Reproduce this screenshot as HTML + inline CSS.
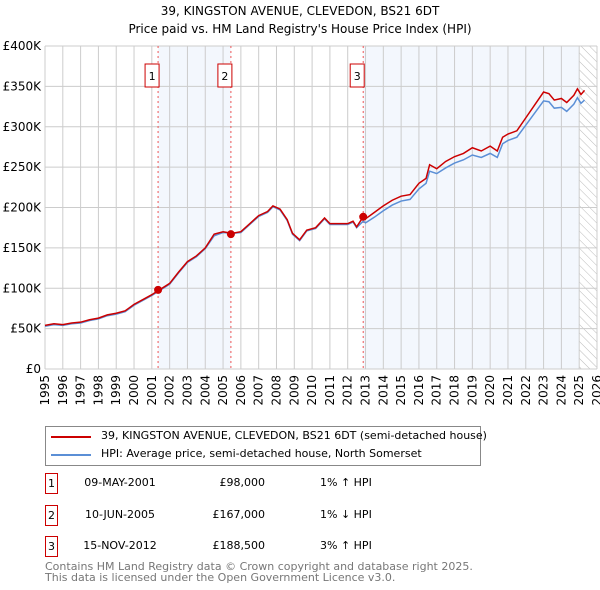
<!DOCTYPE html>
<html><head><meta charset="utf-8"><style>
body{margin:0;background:#fff;font-family:"DejaVu Sans","Liberation Sans",sans-serif;}
#wrap{position:relative;width:600px;height:590px;overflow:hidden;}
.t{position:absolute;font-size:12px;color:#000;white-space:nowrap;}
</style></head><body><div id="wrap">
<svg id="c" width="600" height="590" style="position:absolute;left:0;top:0" font-family="DejaVu Sans, Liberation Sans, sans-serif">
<defs><pattern id="hatch" width="6" height="6" patternUnits="userSpaceOnUse" patternTransform="rotate(-45)"><line x1="0" y1="0" x2="0" y2="6" stroke="#bbb" stroke-width="1"/></pattern></defs>
<text x="300" y="15" text-anchor="middle" font-size="12">39, KINGSTON AVENUE, CLEVEDON, BS21 6DT</text>
<text x="300" y="33" text-anchor="middle" font-size="12">Price paid vs. HM Land Registry's House Price Index (HPI)</text>
<g id="plot"></g>
</svg>
<div style="position:absolute;left:45px;top:426px;width:434px;height:38px;border:1px solid #888;">
<div style="position:absolute;left:5px;top:9px;width:40px;height:2px;background:#cc0000"></div>
<div class="t" style="left:55px;top:2px;font-size:11px">39, KINGSTON AVENUE, CLEVEDON, BS21 6DT (semi-detached house)</div>
<div style="position:absolute;left:5px;top:27px;width:40px;height:2px;background:#5b8fd6"></div>
<div class="t" style="left:55px;top:20px;font-size:11px">HPI: Average price, semi-detached house, North Somerset</div>
</div>
<div id="rows"></div>
<div class="t" style="left:45px;top:561px;font-size:11px;color:#777;line-height:11px">Contains HM Land Registry data © Crown copyright and database right 2025.<br>This data is licensed under the Open Government Licence v3.0.</div>
</div>
<script>
const hpiYears=[1995,1995.5,1996,1996.5,1997,1997.5,1998,1998.5,1999,1999.5,2000,2000.5,2001,2001.35,2001.5,2002,2002.5,2003,2003.5,2004,2004.5,2005,2005.5,2006,2006.5,2007,2007.5,2007.8,2008.2,2008.6,2008.9,2009.3,2009.7,2010.2,2010.7,2011,2011.5,2012,2012.3,2012.5,2012.87,2013,2013.5,2014,2014.5,2015,2015.5,2016,2016.4,2016.6,2017,2017.5,2018,2018.5,2019,2019.5,2020,2020.4,2020.7,2021,2021.5,2022,2022.5,2023,2023.3,2023.6,2024,2024.3,2024.7,2024.9,2025.1,2025.3];
const hpiValues=[53,55,54,56,57,60,62,66,68,71,79,85,91,96,98,105,119,132,139,149,165,169,168,169,179,189,194,201,197,184,167,159,171,174,186,179,179,179,182,175,183,181,188,196,203,208,210,223,230,245,242,249,255,259,265,262,267,262,279,283,287,302,317,332,331,323,324,319,328,336,329,333];
const redValues=[54,56,55,57,58,61,63,67,69,72,80,86,92,97,99,106,120,133,140,150,167,170,168,170,180,190,195,202,198,185,168,160,172,175,187,180,180,180,183,176,188.5,186,194,202,209,214,216,230,236,253,248,257,263,267,274,270,276,270,287,291,295,311,327,343,341,333,335,330,339,347,340,345];
const yTicks=[0,50,100,150,200,250,300,350,400];
const yTickLabels=["£0","£50K","£100K","£150K","£200K","£250K","£300K","£350K","£400K"];
const xTicks=[1995,1996,1997,1998,1999,2000,2001,2002,2003,2004,2005,2006,2007,2008,2009,2010,2011,2012,2013,2014,2015,2016,2017,2018,2019,2020,2021,2022,2023,2024,2025,2026];
const saleDates=[2001.35,2005.44,2012.87];
const salePrices=[98,167,188.5];
const saleLabels=["1","2","3"];
const saleDateText=["09-MAY-2001","10-JUN-2005","15-NOV-2012"];
const salePriceText=["£98,000","£167,000","£188,500"];
const saleHpiText=["1% ↑ HPI","1% ↓ HPI","3% ↑ HPI"];
const L=45,R=597,T=46,B=369;
const xs=v=>L+(v-1995)/(2026-1995)*(R-L);
const ys=v=>B-v/400*(B-T);
const NS="http://www.w3.org/2000/svg";
const g=document.getElementById('plot');
function mk(tag,at){const e=document.createElementNS(NS,tag);for(const k in at)e.setAttribute(k,at[k]);g.appendChild(e);return e;}
let r=mk('rect',{x:L,y:T,width:R-L,height:B-T,fill:'#fff'});


[[saleDates[0],saleDates[1]],[saleDates[2],2025]].forEach(([a,b])=>{const s=mk('rect',{x:xs(a),y:T,width:xs(b)-xs(a),height:B-T,fill:'#eef3fc',opacity:0.7});

});
let h=mk('rect',{x:xs(2025),y:T,width:R-xs(2025),height:B-T,fill:'url(#hatch)'});


xTicks.forEach(v=>{const l=mk('line',{x1:xs(v),x2:xs(v),y1:T,y2:B,stroke:'#ccc','stroke-width':1});


const t=mk('text',{x:xs(v)+4,y:B+6,'font-size':12,transform:`rotate(-90 ${xs(v)+4} ${B+6})`,'text-anchor':'end'});t.textContent=v;

});
yTicks.forEach((v,i)=>{const l=mk('line',{x1:L,x2:R,y1:ys(v),y2:ys(v),stroke:'#ccc','stroke-width':1});


const t=mk('text',{x:L-4,y:ys(v)+4,'font-size':12,'text-anchor':'end'});t.textContent=yTickLabels[i];

});
saleDates.forEach((d,i)=>{const l=mk('line',{x1:xs(d),x2:xs(d),y1:T,y2:B,stroke:'#e55','stroke-width':1,'stroke-dasharray':'2,3'});


const b=mk('rect',{x:xs(d)-13,y:64,width:14,height:23,fill:'#fff',stroke:'#cc0000'});


const t=mk('text',{x:xs(d)-6,y:80,'font-size':11,'text-anchor':'middle'});t.textContent=saleLabels[i];

});
const p1=mk('polyline',{points:hpiYears.map((y,i)=>xs(y)+','+ys(hpiValues[i])).join(' '),fill:'none',stroke:'#5b8fd6','stroke-width':1.5});


const p2=mk('polyline',{points:hpiYears.map((y,i)=>xs(y)+','+ys(redValues[i])).join(' '),fill:'none',stroke:'#cc0000','stroke-width':1.5});


saleDates.forEach((d,i)=>{const c=mk('circle',{cx:xs(d),cy:ys(salePrices[i]),r:4,fill:'#cc0000'});

});
const rows=document.getElementById('rows');
saleDates.forEach((d,i)=>{const top=473+i*31.5;
const row=document.createElement('div');


row.innerHTML=`<div style="position:absolute;left:45px;top:${top}px;width:13px;height:21px;border:1px solid #cc0000;box-sizing:border-box;font-size:11px;text-align:center;line-height:19px">${saleLabels[i]}</div>
<div class="t" style="left:80px;top:${top+3}px;width:80px;text-align:center;font-size:11px">${saleDateText[i]}</div>
<div class="t" style="left:190px;top:${top+3}px;width:75px;text-align:right;font-size:11px">${salePriceText[i]}</div>
<div class="t" style="left:320px;top:${top+3}px;font-size:11px">${saleHpiText[i]}</div>`;
rows.appendChild(row);});
</script>
</body></html>
